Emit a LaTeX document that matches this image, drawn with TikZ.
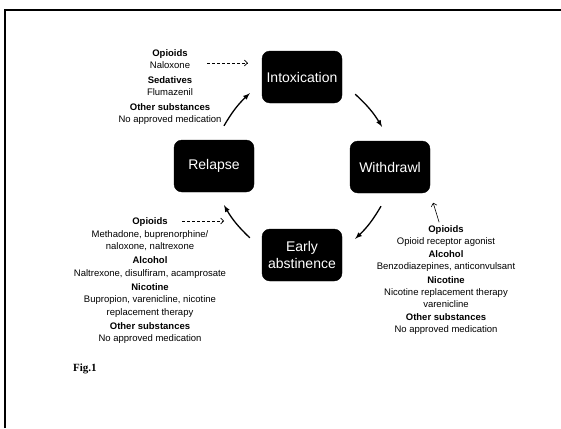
\documentclass[tikz,border=0pt]{standalone}
\usepackage{fontspec}
\setmainfont{Liberation Sans}
\newfontfamily\figfont{Liberation Serif}
\usetikzlibrary{arrows,arrows.meta,positioning,calc}

\begin{document}
\begin{tikzpicture}[
    x=1pt, y=-1pt,
    stage/.style={draw, fill=black, rounded corners=8pt, text=white, align=center, minimum width=80pt, minimum height=52pt, font=\fontsize{14}{17}\selectfont},
    drugs/.style={align=center, inner sep=0pt, font=\fontsize{9.5}{12}\selectfont},
    arrow/.style={-latex, line width=1.3pt},
    dasharrow/.style={-{Straight Barb[length=3pt,width=6pt]}, dash pattern=on 3pt off 2pt, line width=0.6pt},
    thinarrow/.style={-{Straight Barb[length=3pt,width=6pt]}, line width=0.6pt}
]
\useasboundingbox (0,0) rectangle (561,428);

% Frame
\draw[line width=2pt] (5,428) -- (5,10) -- (561,10);

% Cycle
\node[stage] (intox) at (302,77) {Intoxication};
\node[stage] (withd) at (390,167) {Withdrawl};
\node[stage] (early) at (302,255) {Early\\abstinence};
\node[stage] (relapse) at (214,166) {Relapse};

% Medications
\node[drugs, font=\fontsize{9.5}{11.5}\selectfont] (medI) at (170,87) {\textbf{Opioids}\\Naloxone\\[4pt]\textbf{Sedatives}\\Flumazenil\\[4pt]\textbf{Other substances}\\No approved medication};

\node[drugs] (medW) at (446,280) {\textbf{Opioids}\\Opioid receptor agonist\\[1.5pt]\textbf{Alcohol}\\Benzodiazepines, anticonvulsant\\[1.5pt]\textbf{Nicotine}\\Nicotine replacement therapy\\varenicline\\[1.5pt]\textbf{Other substances}\\No approved medication};

\node[drugs, font=\fontsize{9.5}{12.5}\selectfont] (medR) at (150,281) {\textbf{Opioids}\\Methadone, buprenorphine/\\naloxone, naltrexone\\[1.5pt]\textbf{Alcohol}\\Naltrexone, disulfiram, acamprosate\\[1.5pt]\textbf{Nicotine}\\Bupropion, varenicline, nicotine\\replacement therapy\\[1.5pt]\textbf{Other substances}\\No approved medication};

\node[anchor=west, inner sep=0pt, font=\figfont\bfseries\fontsize{11}{13}\selectfont] (fig) at (73,369) {Fig.1};

% Arrows
\draw[arrow] ([shift={(13,-9)}]intox.south east) to[bend left=8] ([shift={(-8,-14)}]withd.north);
\draw[arrow] ([shift={(-9,13)}]withd.south) to[bend left=8] ([shift={(13,10)}]early.north east);
\draw[arrow] ([shift={(-12,9)}]early.north west) to[bend left=8] ([shift={(10,13)}]relapse.south);
\draw[arrow] ([shift={(10,-14)}]relapse.north) to[bend left=8] ([shift={(-12,-10)}]intox.south west);

\coordinate (naloxTail) at (207,63);
\coordinate (methTail) at (182,221);
\coordinate (methHead) at (224,221);
\draw[dasharrow, shorten >=14pt] (naloxTail) -- (naloxTail -| intox.west);
\draw[dasharrow] (methTail) -- (methHead);
\draw[thinarrow, shorten <=3pt, shorten >=10pt] ([xshift=-6pt]medW.north) -- (withd.south east);

\end{tikzpicture}
\end{document}
